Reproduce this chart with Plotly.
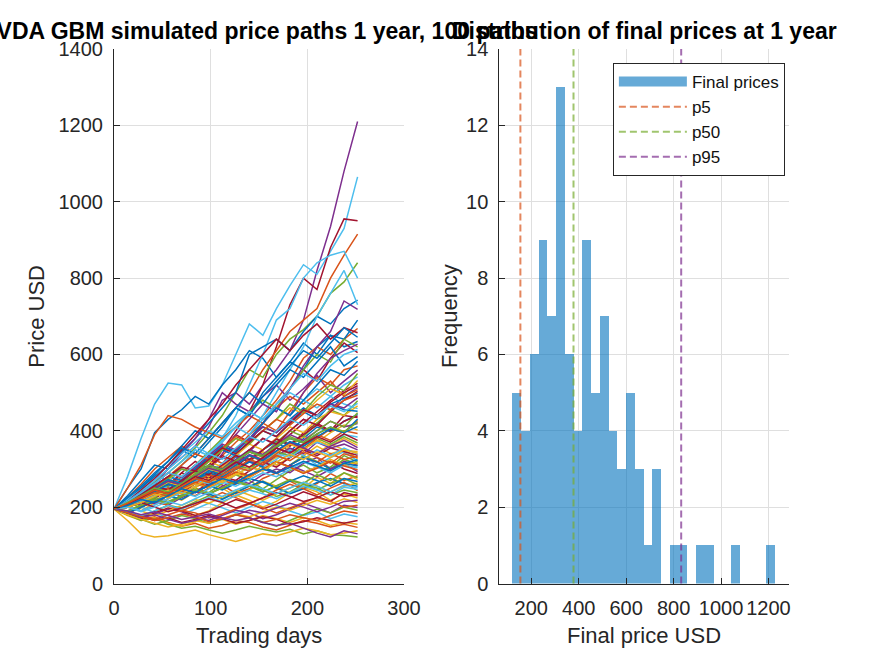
import plotly.graph_objects as go

# ---------------- data ----------------
trading_days = [0, 14, 28, 42, 56, 70, 84, 98, 112, 126, 140, 154, 168, 182, 196, 210, 224, 238, 252]

price_paths = [
    [195,210,228,215,240,268,290,275,300,332,318,350,372,345,380,410,398,425,443],
    [195,188,205,226,240,228,252,270,258,236,248,275,290,268,250,262,288,270,282],
    [195,205,190,212,230,218,240,262,250,228,245,268,255,236,250,278,262,290,272],
    [195,212,240,262,300,330,360,410,480,500,470,520,560,610,690,820,935,1080,1210],
    [195,185,198,220,210,232,250,238,262,285,270,248,272,295,310,290,305,335,318],
    [195,280,380,470,525,520,460,465,520,600,680,650,720,780,835,810,870,930,1065],
    [195,215,240,262,250,290,320,300,350,400,450,520,620,730,800,770,880,955,950],
    [195,250,300,395,430,455,490,470,520,560,610,590,540,580,630,600,650,620,634],
    [195,225,260,300,330,360,340,380,420,460,500,560,610,660,690,720,800,860,915],
    [195,182,170,188,205,195,178,190,210,232,218,200,215,238,252,240,218,235,224],
    [195,215,205,232,258,248,275,305,330,315,345,380,362,400,430,415,455,490,513],
    [195,212,238,265,290,320,355,395,440,500,560,540,600,640,665,700,760,790,840],
    [195,220,250,285,270,310,350,335,380,440,520,600,690,720,800,840,860,870,800],
    [195,218,240,228,260,290,275,310,350,390,370,420,470,510,560,530,590,630,605],
    [195,230,270,310,300,345,380,420,460,500,600,620,640,610,660,700,680,720,742],
    [195,210,235,260,250,280,310,300,335,370,400,440,480,530,590,620,600,640,668],
    [195,205,220,240,230,250,270,262,285,300,280,310,330,350,335,360,340,350,327],
    [195,210,240,270,300,340,380,430,500,470,450,490,520,480,510,545,500,530,559],
    [195,188,175,190,205,198,215,230,222,240,255,245,228,240,260,250,232,245,238],
    [195,215,240,232,265,300,285,320,360,340,390,440,500,560,620,700,760,820,730],
    [195,185,200,222,245,235,262,290,275,305,335,320,355,390,420,450,480,505,524],
    [195,220,250,280,310,350,330,370,410,460,440,500,540,580,560,620,650,640,690],
    [195,180,168,175,160,150,158,145,152,165,160,148,140,152,165,158,148,155,147],
    [195,205,228,215,240,265,250,280,305,290,320,345,330,360,385,370,395,415,402],
    [195,185,200,215,205,225,240,232,255,270,262,285,300,290,315,330,300,320,310],
    [195,215,240,265,290,280,310,345,380,410,450,480,460,510,560,600,580,640,620],
    [195,188,200,185,172,180,195,210,198,185,200,215,205,190,178,188,170,182,175],
    [195,210,230,250,240,265,290,275,305,335,320,350,380,360,395,420,400,440,435],
    [195,220,250,285,320,360,400,380,420,460,500,470,520,560,540,580,620,570,594],
    [195,250,310,390,440,430,410,395,380,410,440,420,460,490,470,500,530,490,508],
    [195,178,165,172,158,150,162,175,168,155,165,178,170,160,172,165,152,160,155],
    [195,208,228,250,240,275,310,295,340,390,430,470,450,510,570,620,660,740,718],
    [195,210,225,240,255,245,270,285,275,300,320,305,290,310,335,320,300,325,313],
    [195,220,245,275,310,340,370,400,385,420,450,430,470,500,480,460,490,470,458],
    [195,215,245,275,310,350,390,430,470,520,560,600,640,610,650,680,640,670,657],
    [195,190,205,220,212,230,245,235,220,238,255,268,250,235,248,265,275,262,255],
    [195,210,232,255,245,270,300,330,315,350,390,420,400,450,500,540,520,560,570],
    [195,212,230,248,265,255,280,300,290,320,345,330,310,330,355,340,365,350,345],
    [195,185,175,182,195,188,172,165,178,192,185,170,180,195,210,198,185,205,199],
    [195,210,200,225,250,240,270,300,285,320,350,335,370,400,385,420,455,440,479],
    [195,215,238,260,250,275,300,290,315,340,325,305,325,350,335,310,330,345,321],
    [195,182,170,185,198,190,178,188,205,220,210,195,208,225,240,228,215,238,230],
    [195,225,255,290,320,355,340,380,420,460,440,490,530,570,610,590,630,670,645],
    [195,200,215,235,225,250,270,260,285,310,300,330,355,340,365,390,375,400,393],
    [195,205,190,178,190,205,220,210,228,245,232,218,235,250,265,255,240,255,263],
    [195,205,225,245,270,260,290,320,350,335,375,420,460,440,500,550,590,610,627],
    [195,180,168,155,165,178,170,158,168,180,172,160,150,165,180,195,185,200,192],
    [195,215,240,270,300,330,360,340,375,410,390,430,460,440,480,510,490,520,541],
    [195,205,220,210,232,250,240,262,280,270,295,318,305,330,350,335,355,345,336],
    [195,210,228,250,275,300,290,320,350,335,370,400,385,420,450,430,470,485,498],
    [195,185,200,215,205,190,205,222,238,225,210,225,245,260,248,232,250,265,243],
    [195,210,230,250,272,262,290,320,305,335,365,350,380,410,395,430,450,440,465],
    [195,200,215,232,250,240,262,285,275,300,320,310,335,355,340,370,355,365,350],
    [195,180,165,170,155,145,150,140,132,140,150,142,135,142,130,138,128,126,122],
    [195,215,238,262,290,320,350,335,370,410,450,430,470,510,550,530,570,600,613],
    [195,205,220,235,225,245,262,250,270,290,278,300,320,305,290,305,320,300,288],
    [195,215,235,258,280,270,300,330,360,345,380,410,395,430,460,440,470,455,451],
    [195,188,178,168,180,192,185,172,182,195,208,198,185,198,212,225,215,200,205],
    [195,205,225,248,272,300,290,320,350,380,365,400,430,460,445,480,510,495,532],
    [195,210,228,248,240,262,285,310,300,325,350,338,365,390,375,400,425,410,419],
    [195,200,212,225,215,230,245,235,250,265,255,240,255,270,260,245,262,275,259],
    [195,205,220,238,228,250,270,262,285,305,295,320,340,330,355,370,360,390,384],
    [195,185,175,165,172,160,168,178,170,158,165,175,168,155,162,172,165,158,165],
    [195,212,232,255,245,270,300,330,360,345,380,420,460,440,480,520,560,545,582],
    [195,200,190,205,222,240,230,250,270,260,280,300,290,310,330,318,340,325,333],
    [195,180,168,158,148,155,165,158,170,182,175,188,200,192,205,218,208,222,212],
    [195,215,238,262,290,278,305,335,365,350,380,410,395,425,455,440,470,460,486],
    [195,205,222,240,232,255,275,265,290,310,300,325,345,335,360,380,365,385,368],
    [195,188,178,190,205,195,210,225,215,230,245,235,222,238,255,245,232,252,247],
    [195,205,222,242,265,255,280,305,335,320,350,380,365,400,430,415,450,480,503],
    [195,210,228,245,262,252,272,290,280,300,318,305,290,310,330,318,300,315,324],
    [195,200,215,232,250,240,262,285,275,300,325,312,340,365,352,380,405,395,427],
    [195,165,130,122,125,132,140,128,118,110,120,130,125,135,145,138,128,132,138],
    [195,205,220,210,230,248,238,258,275,265,285,300,290,310,295,280,300,315,293],
    [195,210,230,252,275,300,290,320,350,380,365,400,430,470,450,490,520,505,550],
    [195,200,215,230,245,235,255,272,262,285,305,295,318,340,325,350,335,355,339],
    [195,212,232,255,245,270,295,285,310,335,325,350,378,365,390,415,400,425,439],
    [195,185,200,215,230,220,240,255,245,262,275,265,250,268,282,270,255,275,267],
    [195,210,230,255,280,310,340,325,355,385,370,400,430,415,445,470,455,480,493],
    [195,208,225,245,265,255,278,300,290,312,335,322,345,365,350,375,360,380,362],
    [195,185,172,180,168,158,165,175,168,180,192,185,198,210,200,188,200,215,218],
    [195,210,225,245,268,258,282,305,295,320,345,335,360,385,370,400,425,410,447],
    [195,205,190,205,222,238,228,248,265,255,272,290,280,300,318,305,290,310,303],
    [195,210,232,255,280,305,295,325,355,340,370,400,385,420,455,440,475,500,518],
    [195,212,230,250,272,262,285,310,298,322,345,332,355,380,368,392,410,395,411],
    [195,185,175,165,172,182,175,162,170,180,172,160,168,180,172,165,178,190,184],
    [195,205,220,235,225,245,262,252,270,288,278,300,318,305,290,305,325,310,316],
    [195,210,228,248,268,258,280,302,292,315,338,325,348,370,355,340,360,375,356],
    [195,190,205,220,210,228,245,235,250,268,258,240,255,272,262,285,270,290,277],
    [195,215,238,262,290,280,310,340,325,355,385,370,400,430,415,440,465,450,472],
    [195,200,212,200,188,198,210,222,212,198,210,225,238,228,215,225,240,228,234],
    [195,205,222,240,260,250,272,295,285,310,335,322,348,372,360,385,405,395,431],
    [195,208,222,238,228,248,265,255,275,292,282,300,318,305,288,302,320,308,298],
    [195,200,212,228,245,235,255,275,265,285,305,295,318,338,325,345,330,350,341],
    [195,190,180,188,178,168,175,182,172,165,172,160,152,158,145,132,122,138,130],
    [195,212,230,250,240,262,285,310,298,322,345,332,358,380,368,392,410,398,423],
    [195,200,188,200,215,205,222,238,228,245,258,248,235,250,265,255,240,258,251],
    [195,208,225,245,235,258,280,270,295,318,305,330,355,342,365,385,370,392,375],
    [195,205,220,212,230,248,238,258,275,265,285,300,288,305,320,308,295,315,308],
    [195,210,228,245,235,255,275,265,285,305,295,318,335,322,345,330,315,340,330],
]

final_prices = [path[-1] for path in price_paths]

percentile_labels = ["p5", "p50", "p95"]
percentile_values = [154, 378, 832]

hist_bin_start = 121.5
hist_bin_end = 1228.5
hist_bin_size = 36.9

left_x_ticks = [0, 100, 200, 300]
left_y_ticks = [0, 200, 400, 600, 800, 1000, 1200, 1400]
right_x_ticks = [200, 400, 600, 800, 1000, 1200]
right_y_ticks = [0, 2, 4, 6, 8, 10, 12, 14]

# ---------------- styling ----------------
line_colors = ["#0072BD", "#D95319", "#EDB120", "#7E2F8E", "#77AC30", "#4DBEEE", "#A2142F"]
percentile_colors = ["rgba(217,83,25,0.7)", "rgba(119,172,48,0.7)", "rgba(126,47,142,0.7)"]
hist_color = "rgba(0,114,189,0.6)"
FONT = "Liberation Sans, Arial, Helvetica, sans-serif"
AX = "#262626"

fig = go.Figure()

for i, path in enumerate(price_paths):
    fig.add_trace(go.Scatter(
        x=trading_days, y=path, mode="lines",
        line=dict(color=line_colors[i % len(line_colors)], width=1.5),
        showlegend=False, hoverinfo="skip", xaxis="x", yaxis="y"))

fig.add_trace(go.Histogram(
    x=final_prices,
    xbins=dict(start=hist_bin_start, end=hist_bin_end, size=hist_bin_size),
    marker=dict(color=hist_color, line=dict(width=0)),
    showlegend=False, xaxis="x2", yaxis="y2"))

# legend proxy for the histogram (wide filled swatch like MATLAB)
fig.add_trace(go.Scatter(
    x=[None], y=[None], mode="lines",
    line=dict(color=hist_color, width=16),
    name="Final prices", xaxis="x2", yaxis="y2"))

for lbl, val, col in zip(percentile_labels, percentile_values, percentile_colors):
    fig.add_shape(type="line", xref="x2", yref="y2 domain",
                  x0=val, x1=val, y0=0, y1=1,
                  line=dict(color=col, width=2, dash="7px,4px"),
                  showlegend=True, name=lbl)

axis_common = dict(
    showline=True, linecolor=AX, linewidth=1, mirror=False,
    ticks="inside", ticklen=6, tickwidth=1, tickcolor=AX,
    showgrid=True, gridcolor="#dfdfdf", gridwidth=1, zeroline=False,
    tickfont=dict(family=FONT, size=20, color=AX),
    automargin=False, tickangle=0,
)

ydom = [0.1105, 0.9253]
fig.update_layout(
    width=875, height=656,
    margin=dict(l=0, r=0, t=0, b=0, autoexpand=False),
    paper_bgcolor="white", plot_bgcolor="white",
    bargap=0,
    xaxis=dict(domain=[0.1303, 0.4617], range=[0, 300], tickvals=left_x_ticks,
               anchor="y", ticklabelstandoff=6, **axis_common),
    yaxis=dict(domain=ydom, range=[0, 1400], tickvals=left_y_ticks,
               anchor="x", ticklabelstandoff=6, **axis_common),
    xaxis2=dict(domain=[0.5706, 0.9021], range=[65, 1288], tickvals=right_x_ticks,
                anchor="y2", ticklabelstandoff=6, **axis_common),
    yaxis2=dict(domain=ydom, range=[0, 14], tickvals=right_y_ticks,
                anchor="x2", ticklabelstandoff=6, **axis_common),
    legend=dict(x=0.897, y=0.904, xanchor="right", yanchor="top",
                bgcolor="white", bordercolor=AX, borderwidth=1,
                font=dict(family=FONT, size=17, color="#111111"),
                itemwidth=68, tracegroupgap=0),
    showlegend=True,
)

title_font = dict(family=FONT, size=23, color="black", weight="bold")
label_font = dict(family=FONT, size=22, color=AX)
annotations = [
    dict(text="NVDA GBM simulated price paths 1 year, 100 paths", x=0.296, y=0.953,
         xref="paper", yref="paper", showarrow=False, font=title_font,
         xanchor="center", yanchor="middle"),
    dict(text="Distribution of final prices at 1 year", x=0.7363, y=0.953,
         xref="paper", yref="paper", showarrow=False, font=title_font,
         xanchor="center", yanchor="middle"),
    dict(text="Trading days", x=0.296, y=0.032, xref="paper", yref="paper",
         showarrow=False, font=label_font, xanchor="center", yanchor="middle"),
    dict(text="Final price USD", x=0.7363, y=0.032, xref="paper", yref="paper",
         showarrow=False, font=label_font, xanchor="center", yanchor="middle"),
    dict(text="Price USD", x=0.0417, y=0.518, xref="paper", yref="paper",
         showarrow=False, font=label_font, textangle=-90,
         xanchor="center", yanchor="middle"),
    dict(text="Frequency", x=0.513, y=0.518, xref="paper", yref="paper",
         showarrow=False, font=label_font, textangle=-90,
         xanchor="center", yanchor="middle"),
]
fig.update_layout(annotations=annotations)

fig.write_html("out.html")
